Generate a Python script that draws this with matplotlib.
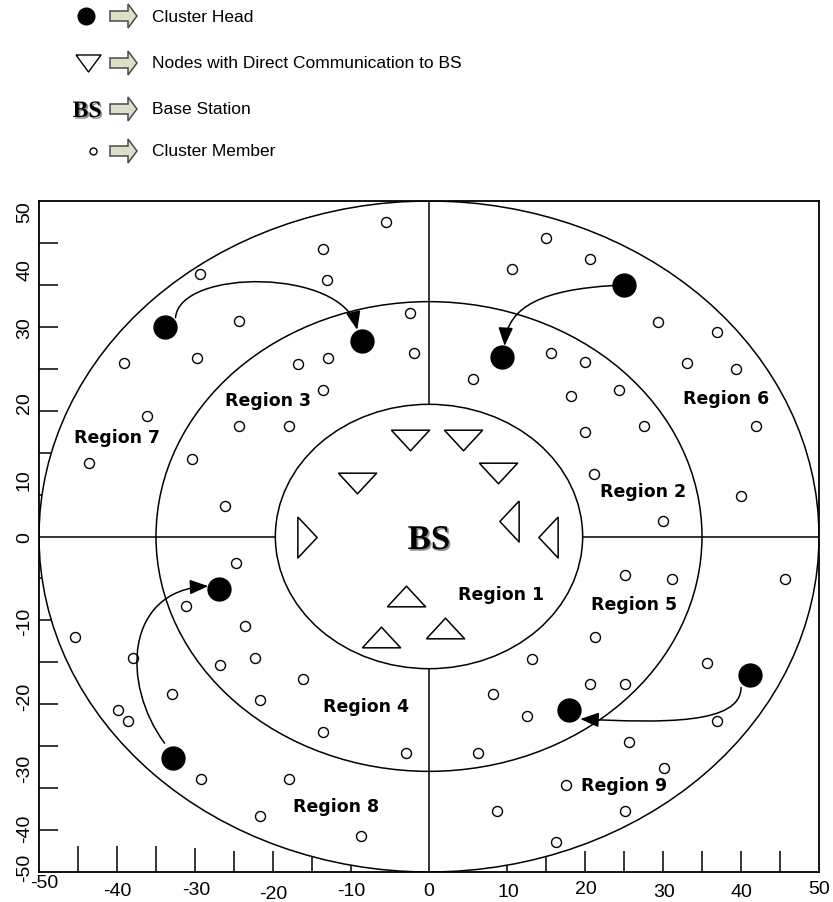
import matplotlib
matplotlib.use("Agg")
import matplotlib.pyplot as plt
import matplotlib.patheffects as pe
from matplotlib.patches import Circle, Polygon, FancyArrowPatch
from matplotlib.path import Path
from matplotlib.transforms import blended_transform_factory

SANS = ['Liberation Sans', 'DejaVu Sans']

# cluster members
member_x = [-29.3, -13.1, -13.6, -24.3, -2.4, -1.9, -39.1, -29.8, -16.8, -13.0,
            -13.6, -36.1, -24.3, -18.0, -43.6, -30.4, -26.1, -5.5,
            10.7, 20.6, 29.4, 36.9, 33.1, 39.4, 5.7, 15.7, 20.0, 18.2,
            24.4, 20.0, 27.5, 41.9, 21.2, 40.0, 30.0, 15.0,
            -24.8, -31.1, -23.6, -45.4, -37.9, -26.8, -22.3, -16.2, -33.0, -21.7,
            -39.9, -38.6, -13.6, -3.0, -29.2, -18.0, -21.7, -8.7,
            25.1, 31.2, 45.7, 21.3, 13.2, 35.6, 20.7, 25.1, 8.2, 12.5,
            36.9, 25.7, 6.3, 30.1, 17.5, 8.7, 25.1, 16.3]
member_y = [39.1, 38.2, 42.8, 32.1, 33.3, 27.3, 25.8, 26.6, 25.7, 26.6,
            21.8, 17.9, 16.4, 16.4, 10.9, 11.6, 4.6, 46.9,
            39.9, 41.4, 32.0, 30.5, 25.8, 25.0, 23.4, 27.3, 26.0, 21.0,
            21.8, 15.6, 16.4, 16.4, 9.3, 6.1, 2.3, 44.5,
            -4.0, -10.3, -13.4, -15.0, -18.1, -19.2, -18.1, -21.2, -23.5, -24.4,
            -25.9, -27.5, -29.1, -32.3, -36.1, -36.1, -41.6, -44.7,
            -5.8, -6.3, -6.4, -15.0, -18.2, -18.9, -22.0, -22.0, -23.5, -26.7,
            -27.5, -30.6, -32.2, -34.5, -37.0, -40.9, -40.9, -45.5]

# cluster heads
head_x = [-33.8, -8.6, 25.0, 9.4, -26.9, -32.8, 41.2, 18.0]
head_y = [31.2, 29.1, 37.5, 26.8, -7.8, -33.0, -20.6, -25.9]

# nodes talking straight to the BS, grouped by triangle direction
down_x = [-2.4, 4.4, 8.9, -9.2]
down_y = [14.4, 14.4, 9.5, 7.9]
up_x = [-3.0, 2.0, -6.1]
up_y = [-8.9, -13.7, -15.0]
left_x = [10.3, 15.2]
left_y = [2.3, 0.0]
right_x = [-15.6]
right_y = [0.0]

region_names = ['Region 1', 'Region 2', 'Region 3', 'Region 4', 'Region 5',
                'Region 6', 'Region 7', 'Region 8', 'Region 9']
region_x = [9.3, 27.5, -20.6, -8.1, 26.3, 38.1, -40.0, -11.9, 25.0]
region_y = [-8.6, 6.8, 20.3, -25.2, -10.0, 20.6, 14.8, -40.1, -37.1]

ring_radius = [50, 35, 19.7]

# head -> head links: start, ctrl1, ctrl2, end
links = [
    [(-32.5, 32.6), (-32.0, 40.0), (-11.0, 40.0), (-9.2, 30.8)],
    [(23.6, 37.4), (15.0, 36.8), (10.0, 34.5), (9.7, 28.4)],
    [(-33.9, -30.8), (-39.5, -22.0), (-39.0, -8.0), (-28.3, -7.4)],
    [(40.0, -22.5), (40.0, -28.0), (30.0, -27.8), (19.4, -27.2)],
]

xlab_text = ['-50', '-40', '-30', '-20', '-10', '0', '10', '20', '30', '40', '50']
xlab_at = [-49.3, -39.9, -29.8, -20.0, -10.0, 0, 10.2, 20.1, 30.1, 40.1, 50.0]
xlab_ypx = [884, 892, 891, 895, 892, 892, 893, 890, 893, 893, 890]
ylab_text = ['50', '40', '30', '20', '10', '0', '-10', '-20', '-30', '-40', '-50']
ylab_at = [48.5, 39.9, 31.2, 20.0, 8.5, 0, -12.6, -23.7, -34.5, -43.4, -49.2]

legend_labels = ['Cluster Head', 'Nodes with Direct Communication to BS',
                 'Base Station', 'Cluster Member']
legend_row_px = [17, 64, 110, 152]

W, H = 833, 903
fig = plt.figure(figsize=(W / 100, H / 100), dpi=100)
ax = fig.add_axes([39 / W, 30 / H, 780 / W, 671 / H])
ax.set_xlim(-50, 50)
ax.set_ylim(-50, 50)
ax.set_axisbelow(True)
for sp in ax.spines.values():
    sp.set_linewidth(1.3)
    sp.set_zorder(6)

# decorative inward ticks (the white disc hides the parts inside it)
ax.set_xticks([-45, -40, -35])
ax.set_xticks([-30], minor=True)
ax.tick_params(axis='x', which='major', direction='in', length=19, width=1.1, labelbottom=False)
ax.tick_params(axis='x', which='minor', direction='in', length=17, width=1.1, labelbottom=False)
ax.set_yticks([-43.75, -37.5, -31.25, -25, -18.75, -12.5, -6.25,
               6.25, 12.5, 18.75, 25, 31.25, 37.5, 43.75])
ax.tick_params(axis='y', direction='in', length=14, width=1.1, labelleft=False)
sec = ax.secondary_xaxis('bottom')
sec.set_xticks([-25, -20, -15, -10, 10, 15, 20, 25, 30, 35, 40, 45])
sec.tick_params(direction='in', length=15, width=1.1, labelbottom=False)
sec.spines['bottom'].set_visible(False)

for r in ring_radius:
    ax.add_patch(Circle((0, 0), r, facecolor='white' if r == 50 else 'none',
                        edgecolor='black', lw=1.1, zorder=1))
r_in = ring_radius[-1]
ax.plot([-50, -r_in], [0, 0], color='black', lw=1.1, zorder=2)
ax.plot([r_in, 50], [0, 0], color='black', lw=1.1, zorder=2)
ax.plot([0, 0], [r_in, 50], color='black', lw=1.1, zorder=2)
ax.plot([0, 0], [-r_in, -50], color='black', lw=1.1, zorder=2)

ax.plot(member_x, member_y, 'o', ms=7.2, mfc='white', mec='black', mew=1.0, zorder=3)
ax.plot(head_x, head_y, 'o', ms=16.5, color='black', zorder=4)

tri_down = [(-1, 0.54), (1, 0.54), (0, -0.54), (-1, 0.54)]
tri_up = [(-1, -0.54), (1, -0.54), (0, 0.54), (-1, -0.54)]
tri_left = [(0.47, 1), (0.47, -1), (-0.47, 0), (0.47, 1)]
tri_right = [(-0.47, 1), (-0.47, -1), (0.47, 0), (-0.47, 1)]
for xs, ys, m, s in [(down_x, down_y, tri_down, 27.5), (up_x, up_y, tri_up, 27.5),
                     (left_x, left_y, tri_left, 29.5), (right_x, right_y, tri_right, 29.5)]:
    ax.plot(xs, ys, linestyle='none', marker=m, ms=s, mfc='white', mec='black',
            mew=1.1, zorder=3)

shadow = [pe.withSimplePatchShadow(offset=(1.2, -1.2), shadow_rgbFace='0.45', alpha=0.8)]
ax.text(0, 0, 'BS', family=['Liberation Serif', 'DejaVu Serif'], weight='bold',
        fontsize=25, ha='center', va='center_baseline', path_effects=shadow, zorder=5)

for name, x, y in zip(region_names, region_x, region_y):
    ax.text(x, y, name, family='DejaVu Sans', weight='bold', fontsize=12.5,
            ha='center', va='center', zorder=5)

codes = [Path.MOVETO, Path.CURVE4, Path.CURVE4, Path.CURVE4]
for pts in links:
    arr = FancyArrowPatch(path=Path(pts, codes),
                          arrowstyle='-|>,head_length=0.75,head_width=0.3',
                          mutation_scale=15, color='black', lw=1.1, zorder=5)
    ax.add_patch(arr)

# tick labels
bx = blended_transform_factory(ax.transData, fig.transFigure)
for t, x, ypx in zip(xlab_text, xlab_at, xlab_ypx):
    ax.text(x, 1 - ypx / H, t, transform=bx, family=SANS, fontsize=14,
            ha='center', va='center', clip_on=False)
by = blended_transform_factory(fig.transFigure, ax.transData)
for t, y in zip(ylab_text, ylab_at):
    ax.text(24.5 / W, y, t, transform=by, family=SANS, fontsize=14, rotation=90,
            ha='center', va='center', clip_on=False)

# legend on top, in pixel coordinates
lg = fig.add_axes([0, 0, 1, 1], zorder=-1)
lg.set_xlim(0, W)
lg.set_ylim(H, 0)
lg.axis('off')
for yc in legend_row_px:
    lg.add_patch(Polygon([(110, yc - 5), (128, yc - 5), (128, yc - 12), (137, yc),
                          (128, yc + 12), (128, yc + 5), (110, yc + 5)],
                         closed=True, facecolor='#dcdfca', edgecolor='#4a4a4a', lw=1.1))
lg.plot([86], [legend_row_px[0]], 'o', ms=12, color='black')
lg.plot([88], [legend_row_px[1]], linestyle='none',
        marker=[(-1, 0.68), (1, 0.68), (0, -0.68), (-1, 0.68)], ms=18,
        mfc='white', mec='black', mew=1.0)
lg.text(87, legend_row_px[2], 'BS', family=['Liberation Serif', 'DejaVu Serif'],
        weight='bold', fontsize=17, ha='center', va='center_baseline', path_effects=shadow)
lg.plot([93], [legend_row_px[3]], 'o', ms=5, mfc='white', mec='black', mew=1.0)
for t, yc in zip(legend_labels, legend_row_px):
    lg.text(152, yc, t, family=SANS, fontsize=12.5, ha='left', va='center')

fig.savefig('out.png', dpi=100)
